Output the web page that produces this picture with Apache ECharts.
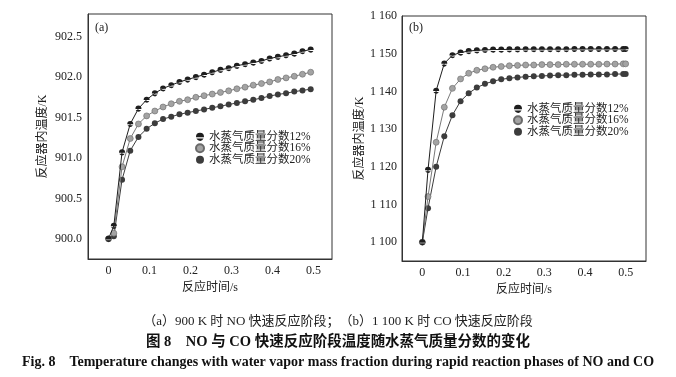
<!DOCTYPE html>
<html>
<head>
<meta charset="utf-8">
<script src="https://cdn.jsdelivr.net/npm/echarts@6/dist/echarts.min.js"></script>
<style>
  html, body { margin: 0; padding: 0; background: #fff; }
  #chart { width: 676px; height: 377px; }
</style>
</head>
<body>
<div id="chart"></div>
<script>
var FONT = '"Liberation Serif", "Noto Sans CJK SC", serif';

var seriesNames = ["水蒸气质量分数12%", "水蒸气质量分数16%", "水蒸气质量分数20%"];

// (a) 900 K, NO
var timeA = [0, 0.013, 0.033, 0.053, 0.073, 0.093, 0.113, 0.133, 0.153, 0.173, 0.193, 0.213, 0.233,
  0.253, 0.273, 0.293, 0.313, 0.333, 0.353, 0.373, 0.393, 0.413, 0.433, 0.453, 0.473, 0.493];
var tempA12 = [900.0, 900.16, 901.07, 901.42, 901.61, 901.72, 901.80, 901.86, 901.90, 901.94, 901.97, 902.00, 902.03,
  902.06, 902.09, 902.11, 902.14, 902.16, 902.18, 902.20, 902.23, 902.25, 902.27, 902.29, 902.32, 902.34];
var tempA16 = [900.0, 900.07, 900.89, 901.24, 901.42, 901.52, 901.58, 901.63, 901.67, 901.70, 901.72, 901.75, 901.77,
  901.79, 901.81, 901.83, 901.855, 901.875, 901.90, 901.92, 901.94, 901.97, 901.99, 902.01, 902.035, 902.06];
var tempA20 = [900.0, 900.03, 900.73, 901.09, 901.26, 901.36, 901.43, 901.48, 901.51, 901.54, 901.56, 901.58, 901.60,
  901.62, 901.64, 901.66, 901.68, 901.70, 901.72, 901.74, 901.765, 901.785, 901.80, 901.82, 901.835, 901.85];

// (b) 1 100 K, CO
var timeB = [0, 0.014, 0.034, 0.054, 0.074, 0.094, 0.114, 0.134, 0.154, 0.174, 0.194, 0.214, 0.234,
  0.254, 0.274, 0.294, 0.314, 0.334, 0.354, 0.374, 0.394, 0.414, 0.434, 0.454, 0.474, 0.494, 0.5];
var tempB12 = [1100, 1119.2, 1140.2, 1147.4, 1149.6, 1150.3, 1150.7, 1150.9, 1151.0, 1151.1, 1151.1, 1151.15, 1151.15,
  1151.2, 1151.2, 1151.2, 1151.2, 1151.2, 1151.2, 1151.25, 1151.25, 1151.25, 1151.25, 1151.25, 1151.25, 1151.25, 1151.25];
var tempB16 = [1100, 1112.1, 1126.5, 1135.8, 1140.8, 1143.3, 1144.8, 1145.6, 1146.0, 1146.4, 1146.6, 1146.8, 1146.9,
  1147.0, 1147.0, 1147.1, 1147.1, 1147.1, 1147.2, 1147.2, 1147.2, 1147.2, 1147.2, 1147.25, 1147.25, 1147.3, 1147.3];
var tempB20 = [1100, 1109.0, 1120.0, 1128.1, 1133.7, 1137.4, 1139.5, 1141.0, 1142.0, 1142.7, 1143.2, 1143.5, 1143.7,
  1143.9, 1144.0, 1144.1, 1144.2, 1144.3, 1144.3, 1144.4, 1144.4, 1144.5, 1144.5, 1144.5, 1144.6, 1144.6, 1144.6];

var xTicks = [0, 0.1, 0.2, 0.3, 0.4, 0.5];

function pairs(t, v) {
  return t.map(function (x, i) { return [x, v[i]]; });
}

// half-dome marker for the 12% series
var halfDome = "path://M0,5A5,5,0,0,1,10,5L10,5.6L0,5.6Z M0.56,7.3L9.44,7.3A5,5,0,0,1,0.56,7.3Z";
var styles = [
  { symbol: halfDome, fill: "#1e1e1e", border: "#1e1e1e", line: "#1e1e1e" },
  { symbol: "circle", fill: "#a3a3a3", border: "#6a6a6a", line: "#7a7a7a" },
  { symbol: "circle", fill: "#3c3c3c", border: "#3c3c3c", line: "#3c3c3c" }
];

function makeSeries(idx, t, vals) {
  return vals.map(function (v, k) {
    var s = styles[k];
    return {
      name: seriesNames[k],
      type: "line",
      xAxisIndex: idx,
      yAxisIndex: idx,
      data: pairs(t, v),
      symbol: s.symbol,
      symbolSize: 6,
      showAllSymbol: true,
      animation: false,
      lineStyle: { color: s.line, width: 1 },
      itemStyle: { color: s.fill, borderColor: s.border, borderWidth: k === 1 ? 0.6 : 0 },
      z: 3 - k
    };
  });
}

function xAxisOf(idx, max) {
  return {
    type: "value",
    gridIndex: idx,
    min: -0.05,
    max: max,
    splitNumber: 6,
    name: "反应时间/s",
    nameLocation: "middle",
    nameGap: 19,
    nameTextStyle: { fontFamily: FONT, fontSize: 12, color: "#222" },
    axisLine: { onZero: false, lineStyle: { color: "#333", width: 1 } },
    axisTick: { show: false },
    splitLine: { show: false },
    axisLabel: {
      fontFamily: FONT, fontSize: 12, color: "#222", margin: 6,
      formatter: function (v) {
        var r = Math.round(v * 10) / 10;
        if (v < -1e-9 || v > 0.5 + 1e-9 || Math.abs(r - v) > 1e-6) return "";
        return xTicks.indexOf(r) >= 0 ? String(r) : "";
      }
    }
  };
}

function legendOf(left, top) {
  return {
    left: left, top: top, orient: "vertical", itemGap: 0, itemWidth: 8, itemHeight: 8,
    selectedMode: false,
    textStyle: { fontFamily: FONT, fontSize: 11.5, color: "#222", lineHeight: 11 },
    data: [
      { name: seriesNames[0], icon: halfDome, itemStyle: { color: "#1e1e1e" } },
      { name: seriesNames[1], icon: "circle" },
      { name: seriesNames[2], icon: "circle" }
    ]
  };
}

var option = {
  backgroundColor: "#fff",
  animation: false,
  grid: [
    { left: 88, top: 14, width: 244, height: 245, show: true, borderColor: "#333", borderWidth: 1 },
    { left: 402, top: 16, width: 244, height: 245, show: true, borderColor: "#333", borderWidth: 1 }
  ],
  title: [
    { text: "(a)", left: 90, top: 17, textStyle: { fontFamily: FONT, fontSize: 12, fontWeight: "normal", color: "#222" } },
    { text: "(b)", left: 404, top: 17, textStyle: { fontFamily: FONT, fontSize: 12, fontWeight: "normal", color: "#222" } }
  ],
  legend: [legendOf(190, 126), legendOf(508, 98)],
  xAxis: [xAxisOf(0, 0.545), xAxisOf(1, 0.55)],
  yAxis: [
    {
      type: "value", gridIndex: 0, min: 899.75, max: 902.78, splitNumber: 6,
      name: "反应器内温度/K", nameLocation: "middle", nameGap: 39,
      nameTextStyle: { fontFamily: FONT, fontSize: 12, color: "#222" },
      axisLine: { show: true, onZero: false, lineStyle: { color: "#333", width: 1 } },
      axisTick: { show: false },
      splitLine: { show: false },
      axisLabel: {
        fontFamily: FONT, fontSize: 12, color: "#222", margin: 6,
        formatter: function (v) {
          if (Math.abs(v * 2 - Math.round(v * 2)) > 1e-6 || v < 899.99) return "";
          return v.toFixed(1);
        }
      }
    },
    {
      type: "value", gridIndex: 1, min: 1095, max: 1160, splitNumber: 6,
      name: "反应器内温度/K", nameLocation: "middle", nameGap: 36,
      nameTextStyle: { fontFamily: FONT, fontSize: 12, color: "#222" },
      axisLine: { show: true, onZero: false, lineStyle: { color: "#333", width: 1 } },
      axisTick: { show: false },
      splitLine: { show: false },
      axisLabel: {
        fontFamily: FONT, fontSize: 12, color: "#222", margin: 5,
        formatter: function (v) {
          if (v % 10 !== 0 || v < 1100) return "";
          var s = String(v);
          return s.slice(0, 1) + " " + s.slice(1);
        }
      }
    }
  ],
  series: makeSeries(0, timeA, [tempA12, tempA16, tempA20])
    .concat(makeSeries(1, timeB, [tempB12, tempB16, tempB20])),
  graphic: [
    {
      type: "text", left: "center", top: 315,
      style: { text: "（a）900 K 时 NO 快速反应阶段；（b）1 100 K 时 CO 快速反应阶段",
        font: '13px "Liberation Serif", "Noto Sans CJK SC"', fill: "#222" }
    },
    {
      type: "text", left: "center", top: 335,
      style: { text: "图 8    NO 与 CO 快速反应阶段温度随水蒸气质量分数的变化",
        font: 'bold 14.5px "Liberation Serif", "Noto Sans CJK SC"', fill: "#111" }
    },
    {
      type: "text", left: "center", top: 355,
      style: { text: "Fig. 8    Temperature changes with water vapor mass fraction during rapid reaction phases of NO and CO",
        font: 'bold 14px "Liberation Serif"', fill: "#111" }
    }
  ]
};

var myChart = echarts.init(document.getElementById("chart"));
myChart.setOption(option);
</script>
</body>
</html>
